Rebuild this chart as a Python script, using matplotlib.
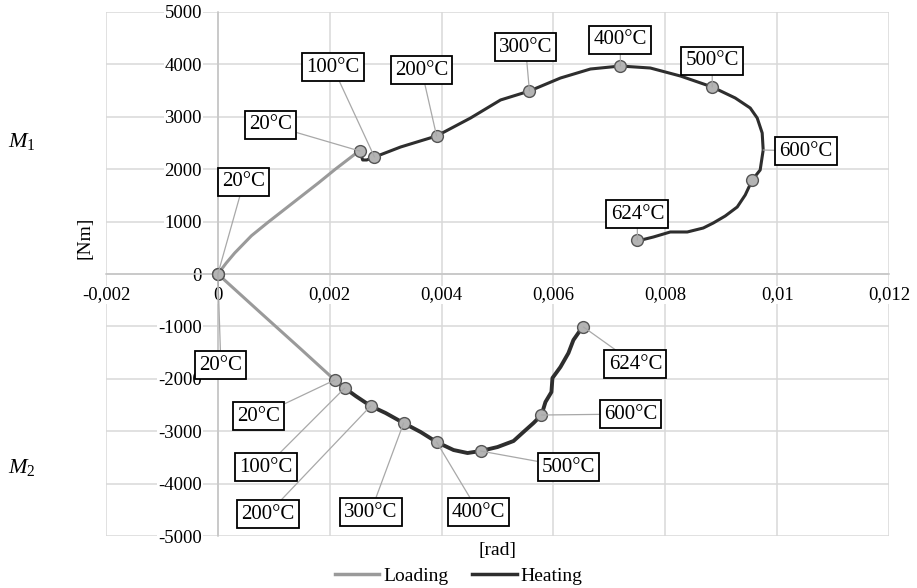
import numpy as np
import matplotlib.pyplot as plt
from matplotlib.ticker import MultipleLocator, FuncFormatter
from matplotlib.lines import Line2D

plt.rcParams['font.family'] = ['Liberation Serif', 'DejaVu Serif']
plt.rcParams['mathtext.fontset'] = 'custom'
plt.rcParams['mathtext.rm'] = 'Liberation Serif'
plt.rcParams['mathtext.it'] = 'Liberation Serif:italic'

# ---- M1 branch (positive moment) ----
load1_x = [0, 0.00015, 0.0003, 0.0006, 0.0009, 0.0012, 0.0015, 0.0018, 0.0021, 0.0025, 0.002536]
load1_y = [0, 210, 400, 730, 990, 1240, 1490, 1740, 2000, 2328, 2347]

heat1_x = [0.002536, 0.002589, 0.002661, 0.002804, 0.003268, 0.003911, 0.004518, 0.005054,
           0.005571, 0.006125, 0.006661, 0.007196, 0.007732, 0.008268, 0.008839, 0.00925,
           0.009518, 0.009643, 0.009732, 0.00975, 0.009696, 0.009554, 0.009429, 0.009286,
           0.009071, 0.008857, 0.008679, 0.008393, 0.008089, 0.007786, 0.0075]
heat1_y = [2347, 2176, 2176, 2233, 2424, 2634, 2977, 3321,
           3492, 3740, 3912, 3969, 3931, 3779, 3569, 3359,
           3168, 2977, 2691, 2366, 1985, 1794, 1508, 1279,
           1107, 973, 878, 802, 802, 706, 630]

# temperature markers on M1
temp1 = ['20°C', '20°C', '100°C', '200°C', '300°C', '400°C', '500°C', '600°C', '624°C']
mark1_x = [0, 0.002536, 0.0028, 0.003911, 0.005571, 0.007196, 0.008839, 0.009554, 0.0075]
mark1_y = [0, 2347, 2233, 2634, 3492, 3969, 3569, 1794, 649]
# where leader lines end
tip1_x = [0, 0.002536, 0.0028, 0.003911, 0.005571, 0.007196, 0.008839, 0.00975, 0.0075]
tip1_y = [0, 2347, 2233, 2634, 3492, 3969, 3569, 2366, 649]
# label box centres
lab1_x = [0.000464, 0.000946, 0.002054, 0.003643, 0.0055, 0.007196, 0.008839, 0.010518, 0.0075]
lab1_y = [1756, 2844, 3950, 3893, 4332, 4466, 4065, 2347, 1145]

# ---- M2 branch (negative moment) ----
load2_x = [0, 0.000768, 0.001482, 0.002089]
load2_y = [0, -744, -1431, -2023]

heat2_x = [0.002089, 0.002268, 0.002464, 0.002732, 0.003, 0.003321, 0.003625, 0.003911,
           0.004214, 0.004464, 0.004696, 0.005, 0.005286, 0.005464, 0.005643, 0.005786,
           0.005857, 0.005964, 0.005982, 0.006125, 0.006268, 0.006357, 0.006482, 0.006536]
heat2_y = [-2023, -2176, -2328, -2519, -2653, -2844, -3015, -3206,
           -3359, -3416, -3378, -3302, -3187, -3015, -2844, -2691,
           -2443, -2252, -1985, -1775, -1508, -1260, -1069, -1011]

temp2 = ['20°C', '20°C', '100°C', '200°C', '300°C', '400°C', '500°C', '600°C', '624°C']
mark2_x = [0, 0.002089, 0.002268, 0.002732, 0.003321, 0.003911, 0.004696, 0.005786, 0.006536]
mark2_y = [0, -2023, -2176, -2519, -2844, -3206, -3378, -2691, -1011]
lab2_x = [0.000054, 0.000732, 0.000857, 0.000893, 0.002732, 0.004661, 0.006268, 0.007375, 0.007464]
lab2_y = [-1737, -2710, -3683, -4580, -4542, -4542, -3683, -2672, -1718]

c_load = '#9a9a9a'
c_heat = '#2e2e2e'

fig = plt.figure(figsize=(9.17, 5.88), dpi=100)
ax = fig.add_axes([0.1156, 0.0884, 0.8539, 0.8912])

ax.plot(load1_x, load1_y, color=c_load, lw=2.2, zorder=3, solid_capstyle='round')
ax.plot(load2_x, load2_y, color=c_load, lw=2.2, zorder=3, solid_capstyle='round')
ax.plot(heat1_x, heat1_y, color=c_heat, lw=2.2, zorder=4, solid_joinstyle='round')
ax.plot(heat2_x, heat2_y, color=c_heat, lw=2.8, zorder=4, solid_joinstyle='round')

ax.plot(mark1_x, mark1_y, 'o', ms=8.5, mfc='#b4b4b4', mec='#555555', mew=1, ls='none', zorder=5)
ax.plot(mark2_x, mark2_y, 'o', ms=8.5, mfc='#b4b4b4', mec='#555555', mew=1, ls='none', zorder=5)

box = dict(boxstyle='square,pad=0.2', fc='white', ec='black', lw=1.3)
lead = dict(arrowstyle='-', color='#a8a8a8', lw=0.9, shrinkA=0, shrinkB=0)
for t, tx, ty, lx, ly in zip(temp1, tip1_x, tip1_y, lab1_x, lab1_y):
    ax.annotate(t, xy=(tx, ty), xytext=(lx, ly), ha='center', va='center',
                fontsize=15, bbox=box, arrowprops=lead, zorder=6)
for t, tx, ty, lx, ly in zip(temp2, mark2_x, mark2_y, lab2_x, lab2_y):
    ax.annotate(t, xy=(tx, ty), xytext=(lx, ly), ha='center', va='center',
                fontsize=15, bbox=box, arrowprops=lead, zorder=6)

ax.set_xlim(-0.002, 0.012)
ax.set_ylim(-5000, 5000)
ax.xaxis.set_major_locator(MultipleLocator(0.002))
ax.yaxis.set_major_locator(MultipleLocator(1000))
ax.xaxis.set_major_formatter(FuncFormatter(lambda v, p: ('%g' % round(v, 6)).replace('.', ',')))
ax.yaxis.set_major_formatter(FuncFormatter(lambda v, p: '%d' % round(v)))
ax.grid(True, color='#d9d9d9', lw=1.1, zorder=0)
ax.set_axisbelow(True)

# axes cross at the origin
for s in ['top', 'right']:
    ax.spines[s].set_visible(False)
for s in ['bottom', 'left']:
    ax.spines[s].set_position(('data', 0))
    ax.spines[s].set_color('#c4c4c4')
    ax.spines[s].set_linewidth(1.1)
ax.tick_params(axis='both', length=0, labelsize=13.5, colors='black')
ax.tick_params(axis='x', pad=9)
ax.tick_params(axis='y', pad=11.5)

fig.text(497 / 917, 1 - 551 / 588, '[rad]', ha='center', va='center', fontsize=14)
fig.text(85 / 917, 1 - 238 / 588, '[Nm]', ha='center', va='center', rotation=90, fontsize=14)
fig.text(22 / 917, 1 - 141 / 588, r'$M_{1}$', ha='center', va='center', fontsize=16)
fig.text(22 / 917, 1 - 467 / 588, r'$M_{2}$', ha='center', va='center', fontsize=16)

handles = [Line2D([], [], color=c_load, lw=2.5), Line2D([], [], color=c_heat, lw=2.5)]
fig.legend(handles, ['Loading', 'Heating'], loc='center', bbox_to_anchor=(0.5, 1 - 576 / 588),
           ncol=2, frameon=False, fontsize=14, handlelength=2.3, handletextpad=0.2,
           columnspacing=1.2, borderaxespad=0)

# tick labels sit on white so the grid stops at them
fig.canvas.draw()
for lbl in ax.get_xticklabels() + ax.get_yticklabels():
    lbl.set_bbox(dict(fc='white', ec='none', pad=0.5))

fig.savefig('out.png', dpi=100)
